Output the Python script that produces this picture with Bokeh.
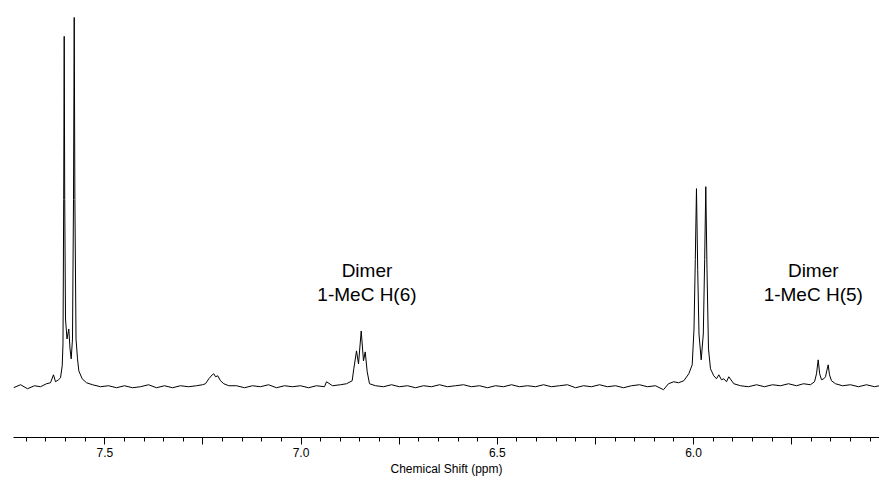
from bokeh.plotting import figure
from bokeh.models import Range1d, FixedTicker, ColumnDataSource
from bokeh.core.properties import value
from bokeh.embed import file_html
from bokeh.resources import INLINE

shift_ppm = [
    7.7326, 7.7147, 7.6969, 7.6791, 7.6638, 7.6485, 7.6383, 7.6307, 7.6256, 7.6179,
    7.6128, 7.6085, 7.6065, 7.6047, 7.6034, 7.6021, 7.6001, 7.5963, 7.5917, 7.5886,
    7.5856, 7.5823, 7.5797, 7.5779, 7.5762, 7.5733, 7.5695, 7.5662, 7.5576, 7.5466,
    7.5313, 7.5109, 7.4905, 7.4702, 7.4498, 7.4294, 7.4090, 7.3886, 7.3683, 7.3479,
    7.3275, 7.3071, 7.2867, 7.2663, 7.2511, 7.2434, 7.2350, 7.2263, 7.2223, 7.2179,
    7.2121, 7.2052, 7.1968, 7.1840, 7.1644, 7.1440, 7.1237, 7.1033, 7.0829, 7.0625,
    7.0421, 7.0217, 7.0014, 6.9810, 6.9606, 6.9402, 6.9351, 6.9198, 6.8995, 6.8842,
    6.8697, 6.8656, 6.8587, 6.8536, 6.8467, 6.8409, 6.8365, 6.8314, 6.8256, 6.8103,
    6.7899, 6.7695, 6.7491, 6.7288, 6.7084, 6.6880, 6.6676, 6.6472, 6.6268, 6.6065,
    6.5861, 6.5657, 6.5453, 6.5249, 6.5046, 6.4842, 6.4638, 6.4434, 6.4230, 6.4026,
    6.3823, 6.3619, 6.3415, 6.3211, 6.3007, 6.2803, 6.2600, 6.2396, 6.2192, 6.1988,
    6.1784, 6.1581, 6.1377, 6.1173, 6.0969, 6.0765, 6.0638, 6.0503, 6.0383, 6.0248,
    6.0121, 6.0034, 5.9988, 5.9955, 5.9925, 5.9894, 5.9861, 5.9805, 5.9751, 5.9716,
    5.9688, 5.9657, 5.9619, 5.9568, 5.9484, 5.9415, 5.9356, 5.9288, 5.9229, 5.9160,
    5.9102, 5.8974, 5.8804, 5.8600, 5.8396, 5.8192, 5.7988, 5.7784, 5.7581, 5.7377,
    5.7198, 5.7020, 5.6918, 5.6867, 5.6824, 5.6786, 5.6740, 5.6681, 5.6638, 5.6605,
    5.6569, 5.6536, 5.6485, 5.6383, 5.6205, 5.6001, 5.5798, 5.5594, 5.5390, 5.5262,
]
intensity = [
    -1, 2, -2, 1, 0, 3, 4, 12, 5, 7,
    9, 21, 43, 188, 352, 188, 68, 48, 58, 38,
    28, 48, 188, 371, 188, 48, 28, 16, 8, 4,
    2, 0, 1, -1, 1, -1, 0, 2, -1, 1,
    -1, 1, 0, 1, 2, 3, 8, 12, 13, 10,
    11, 6, 3, 1, 1, -1, 1, 0, 2, -1,
    1, 0, 1, -1, 1, 0, 5, 1, 2, 3,
    6, 18, 36, 23, 56, 26, 35, 15, 3, 1,
    0, 2, 0, 1, -1, 1, 0, 2, 0, 1,
    2, 0, 1, -1, 1, 0, 2, 0, 1, 0,
    2, 0, 1, 2, -1, 1, 0, 2, 0, 1,
    -1, 1, 2, 0, 1, -3, 3, 5, 4, 6,
    13, 22, 58, 128, 199, 118, 53, 27, 53, 128,
    201, 118, 38, 18, 11, 8, 12, 7, 8, 5,
    10, 3, 1, 0, 2, 0, 2, 1, 3, 1,
    3, 2, 5, 13, 27, 13, 7, 8, 10, 16,
    22, 12, 6, 3, 1, 2, 0, 2, 0, 1,
]

# Peak annotations
label_text = ["Dimer", "1-MeC H(6)", "Dimer", "1-MeC H(5)"]
label_ppm = [6.832, 6.832, 5.695, 5.695]
label_int = [117, 93, 117, 93]

# Axis ticks
major_ticks = [7.75, 7.5, 7.25, 7.0, 6.75, 6.5, 6.25, 6.0, 5.75, 5.5]
labelled_ticks = [7.5, 7.0, 6.5, 6.0]
minor_ticks = [round(7.8 - 0.05 * i, 2) for i in range(48)]

FONT = "Liberation Sans"

p = figure(
    width=879, height=478,
    x_range=Range1d(7.7326, 5.5262),
    y_range=Range1d(-51, 388),
    output_backend="svg", toolbar_location=None,
    min_border_left=13, min_border_right=0,
    min_border_top=0, min_border_bottom=39,
)
p.outline_line_color = None
p.background_fill_color = "white"
p.border_fill_color = "white"
p.grid.visible = False
p.yaxis.visible = False

ax = p.xaxis[0]
ax.ticker = FixedTicker(ticks=major_ticks, minor_ticks=minor_ticks)
ax.major_label_overrides = {
    t: (f"{t:.1f}" if t in labelled_ticks else "") for t in major_ticks
}
ax.axis_line_color = "black"
ax.axis_line_width = 1
ax.major_tick_line_color = "black"
ax.minor_tick_line_color = "black"
ax.major_tick_in = 0
ax.major_tick_out = 7
ax.minor_tick_in = 0
ax.minor_tick_out = 4
ax.major_label_standoff = 3
ax.major_label_text_font = FONT
ax.major_label_text_font_size = "12px"
ax.major_label_text_color = "black"
ax.axis_label = "Chemical Shift (ppm)"
ax.axis_label_text_font = FONT
ax.axis_label_text_font_size = "12px"
ax.axis_label_text_font_style = "normal"
ax.axis_label_text_color = "black"
ax.axis_label_standoff = 2

src = ColumnDataSource(data=dict(ppm=shift_ppm, inten=intensity))
p.line("ppm", "inten", source=src, line_color="black", line_width=1)

lab = ColumnDataSource(data=dict(x=label_ppm, y=label_int, t=label_text))
p.text("x", "y", text="t", source=lab,
       text_font=value(FONT), text_font_size="19px",
       text_align="center", text_baseline="middle", text_color="black")

open("out.html", "w").write(file_html(p, INLINE))
